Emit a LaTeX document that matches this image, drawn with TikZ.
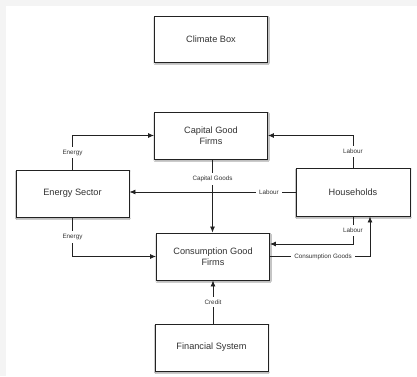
\documentclass[tikz,border=0pt]{standalone}
\usepackage{fontspec}
\setmainfont{Liberation Sans}
\usetikzlibrary{arrows.meta,shadows.blur,calc}
\definecolor{bggray}{HTML}{F4F4F4}
\definecolor{ink}{HTML}{222222}
\definecolor{txt}{HTML}{333333}
\tikzset{
  boxnode/.style={draw=ink, line width=0.9pt, fill=white, minimum width=113pt, minimum height=46pt,
    align=center, inner sep=1pt, text=txt, font=\fontsize{9.2}{10.7}\selectfont,
    blur shadow={shadow xshift=0.6pt, shadow yshift=-1.4pt, shadow blur steps=4, shadow blur radius=1.2pt, shadow opacity=45}},
  flow/.style={draw=ink, line width=0.8pt, -{Latex[length=6pt,width=5pt]}},
  lab/.style={fill=white, text=txt, font=\fontsize{6.3}{7}\selectfont, inner xsep=3.5pt, inner ysep=3pt}
}
\begin{document}
\begin{tikzpicture}[x=1pt,y=-1pt]
\useasboundingbox (0,0) rectangle (417,376);
\fill[bggray] (0,0) rectangle (417,376);
\fill[white] (6,6) rectangle (417,376);

\node[boxnode] (climate) at (211,39) {Climate Box};
\node[boxnode, minimum height=47pt] (capg) at (211,135.5) {Capital Good\\Firms};
\node[boxnode, minimum height=47pt] (energy) at (72.5,193.5) {Energy Sector};
\node[boxnode, minimum width=114pt, minimum height=48pt] (house) at (353,192) {Households};
\node[boxnode, minimum height=47pt] (consg) at (213,256.5) {Consumption Good\\Firms};
\node[boxnode, minimum height=47pt] (fin) at (211.5,347.5) {Financial System};

\coordinate (cgx) at ([xshift=-0.5pt]consg.north);
\coordinate (labin) at ([yshift=12.5pt]consg.east);
\coordinate (hsin) at ([xshift=17pt]house.south);

\draw[flow] (energy.north) |- node[lab, pos=0.25] {Energy} (capg.west);
\draw[flow] (energy.south) |- node[lab, pos=0.25] {Energy} (consg.west);
\draw[flow] (house.west) -- node[lab, pos=0.16] {Labour} (house.west -| energy.east);
\draw[flow] (capg.south -| cgx) -- node[lab, pos=0.27] {Capital Goods} (cgx);
\draw[flow] (house.north) |- node[lab, pos=0.25] {Labour} (capg.east);
\draw[flow] (house.south) |- node[lab, pos=0.25] {Labour} (labin);
\draw[flow] (consg.east) -| node[lab, pos=0.265] {Consumption Goods} (hsin);
\draw[flow] (fin.north -| consg.south) -- node[lab, pos=0.5] {Credit} (consg.south);
\end{tikzpicture}
\end{document}
